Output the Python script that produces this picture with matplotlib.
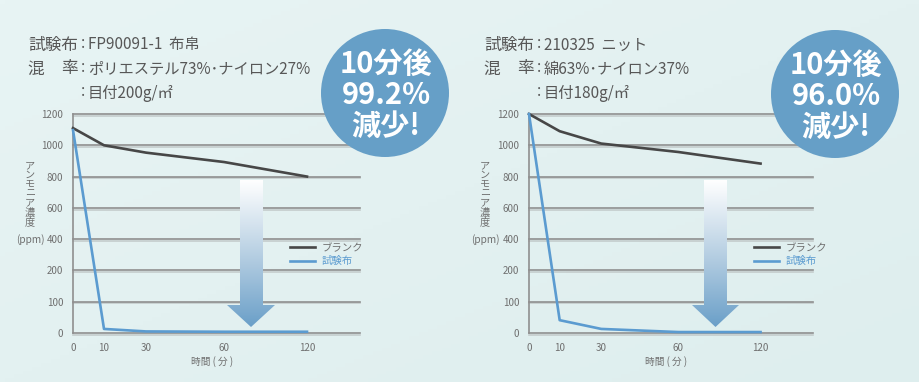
import numpy as np
import matplotlib
matplotlib.use("Agg")
import matplotlib.pyplot as plt
import matplotlib.patheffects as pe
from matplotlib.patches import Circle, Polygon
from matplotlib.colors import LinearSegmentedColormap

plt.rcParams['font.family'] = ['Noto Sans CJK JP', 'DejaVu Sans']

# ---------------- data ----------------
times = [0, 10, 30, 60, 120]
x_ticks = [0, 10, 30, 60, 120]
y_ticks = [0, 100, 200, 400, 600, 800, 1000, 1200]

left_blank = [1110, 1000, 953, 893, 800]
left_test = [1097, 13, 5, 4, 4]
right_blank = [1200, 1090, 1011, 957, 883]
right_test = [1200, 41, 13, 3, 3]

series_names = ["ブランク", "試験布"]
x_label = "時間 ( 分 )"
y_label_stack = "アンモニア濃度"
y_label_unit = "(ppm)"

left_header = [("試験布", "FP90091-1  布帛"),
               ("混率", "ポリエステル73%･ナイロン27%"),
               ("", "目付200g/㎡")]
right_header = [("試験布", "210325  ニット"),
                ("混率", "綿63%･ナイロン37%"),
                ("", "目付180g/㎡")]
left_badge = ["10分後", "99.2%", "減少!"]
right_badge = ["10分後", "96.0%", "減少!"]

# ---------------- styling ----------------
W, H = 920, 382
BLANK_C = "#474747"
TEST_C = "#5b9bd0"
GRID_C = "#8f8f8f"
TICK_C = "#6f6f6f"
TEXT_C = "#575757"
BADGE_C = "#669fc7"

# piecewise scale knots (layout only)
y_knots = np.array([0, 100, 200, 400, 600, 800, 1000, 1200], float)
y_pos = np.arange(len(y_knots), dtype=float)
x_knots = np.array([0, 10, 30, 60, 120, 156], float)
x_pos = np.array([0, 31, 73, 151, 234, 287], float)


def make_fwd(k, p):
    def f(v):
        v = np.asarray(v, float)
        out = np.interp(v, k, p)
        lo = v < k[0]
        hi = v > k[-1]
        out = np.where(lo, p[0] + (v - k[0]) * (p[1] - p[0]) / (k[1] - k[0]), out)
        out = np.where(hi, p[-1] + (v - k[-1]) * (p[-1] - p[-2]) / (k[-1] - k[-2]), out)
        return out
    return f


yf, yi = make_fwd(y_knots, y_pos), make_fwd(y_pos, y_knots)
xf, xi = make_fwd(x_knots, x_pos), make_fwd(x_pos, x_knots)

fig = plt.figure(figsize=(W / 100, H / 100), dpi=100)

# background gradient
bg = fig.add_axes([0, 0, 1, 1], zorder=0)
bg.axis("off")
gx = np.linspace(0, 1, 200)
gy = np.linspace(0, 1, 100)
GX, GY = np.meshgrid(gx, gy)
t = 0.5 * GX + 0.5 * GY
c0 = np.array([232, 244, 244]) / 255
c1 = np.array([222, 238, 238]) / 255
img = c0[None, None, :] * (1 - t[..., None]) + c1[None, None, :] * t[..., None]
bg.imshow(img, extent=(0, W, H, 0), aspect="auto")
bg.set_xlim(0, W)
bg.set_ylim(H, 0)


def px_rect(x0, x1, ytop, ybot):
    return [x0 / W, 1 - ybot / H, (x1 - x0) / W, (ybot - ytop) / H]


grid_fx = [pe.SimpleLineShadow(offset=(0, -1.2), shadow_color="#c4cccc", alpha=1.0),
           pe.Normal()]


def draw_chart(rect, blank, test):
    ax = fig.add_axes(rect, zorder=1)
    ax.patch.set_alpha(0)
    ax.set_xscale("function", functions=(xf, xi))
    ax.set_yscale("function", functions=(yf, yi))
    ax.set_xlim(0, 156)
    ax.set_ylim(0, 1200)
    for yv in y_ticks:
        ax.axhline(yv, color=GRID_C, lw=1.2, zorder=1, clip_on=False, path_effects=grid_fx)
    ax.axvline(0, color=GRID_C, lw=1.2, zorder=1, clip_on=False)
    for s in ax.spines.values():
        s.set_visible(False)
    l1, = ax.plot(times, blank, color=BLANK_C, lw=1.9, zorder=3, clip_on=False,
                  solid_joinstyle="round")
    l2, = ax.plot(times, test, color=TEST_C, lw=1.9, zorder=3, clip_on=False,
                  solid_joinstyle="round")
    ax.set_xticks(x_ticks)
    ax.set_xticklabels([str(v) for v in x_ticks])
    ax.set_yticks(y_ticks)
    ax.set_yticklabels([str(v) for v in y_ticks])
    ax.xaxis.set_minor_locator(matplotlib.ticker.NullLocator())
    ax.yaxis.set_minor_locator(matplotlib.ticker.NullLocator())
    ax.tick_params(axis="both", length=0, labelsize=7, labelcolor=TICK_C)
    ax.tick_params(axis="y", pad=7)
    ax.tick_params(axis="x", pad=7)
    ax.set_xlabel(x_label, fontsize=7, color=TICK_C)
    ax.xaxis.set_label_coords(0.484, -0.106)
    return ax, l1, l2


axL, lb1, lt1 = draw_chart(px_rect(73, 360, 114, 333), left_blank, left_test)
axR, lb2, lt2 = draw_chart(px_rect(529, 813, 114, 333), right_blank, right_test)

for ax, (l1, l2), lx in [(axL, (lb1, lt1), 290), (axR, (lb2, lt2), 754)]:
    leg = ax.legend([l1, l2], series_names, loc="upper left",
                    bbox_to_anchor=(lx / W, 1 - 243 / H), bbox_transform=fig.transFigure,
                    frameon=False, fontsize=7.5, handlelength=2.4, handletextpad=0.6,
                    labelspacing=0.3, borderpad=0, borderaxespad=0)
    texts = leg.get_texts()
    texts[0].set_color(TICK_C)
    texts[1].set_color(TEST_C)

# overlay layer
ov = fig.add_axes([0, 0, 1, 1], zorder=3)
ov.patch.set_alpha(0)
ov.axis("off")

arrow_cmap = LinearSegmentedColormap.from_list("arr", ["#ffffff", "#b8d0e3", "#6a9fc8"])


def gradient_arrow(sx0, sx1, hx0, hx1, ytop, yhead, ytip):
    cx = (hx0 + hx1) / 2
    verts = [(sx0, ytop), (sx1, ytop), (sx1, yhead), (hx1, yhead), (cx, ytip),
             (hx0, yhead), (sx0, yhead)]
    poly = Polygon(verts, closed=True, facecolor="none", edgecolor="none")
    ov.add_patch(poly)
    grad = np.linspace(0, 1, 256)[:, None]
    im = ov.imshow(grad, cmap=arrow_cmap, extent=(hx0, hx1, ytip, ytop), aspect="auto",
                   zorder=4)
    im.set_clip_path(poly)


gradient_arrow(240, 263, 227, 275, 180, 305, 327)
gradient_arrow(704, 727, 692, 739, 180, 305, 327)

ov.set_xlim(0, W)
ov.set_ylim(H, 0)


def badge(cx, cy, lines):
    ov.add_patch(Circle((cx, cy), 64, facecolor=BADGE_C, edgecolor="none", zorder=5))
    for i, s in enumerate(lines):
        ov.text(cx + 1, cy - 29 + i * 31, s, ha="center", va="center", color="white",
                fontsize=21, fontweight="bold", zorder=6)


badge(385, 93, left_badge)
badge(835, 94, right_badge)

FS_L = 12
FS_V = 11


def header(x0, rows):
    for i, (lab, val) in enumerate(rows):
        y = 45 + i * 24
        if lab == "混率":
            ov.text(x0, y, "混", ha="left", va="center", fontsize=FS_L, color=TEXT_C)
            ov.text(x0 + 51, y, "率", ha="right", va="center", fontsize=FS_L, color=TEXT_C)
        elif lab:
            ov.text(x0 + 51, y, lab, ha="right", va="center", fontsize=FS_L, color=TEXT_C)
        ov.text(x0 + 56, y - 1, ":", ha="center", va="center", fontsize=FS_V, color=TEXT_C)
        ov.text(x0 + 61, y, val, ha="left", va="center", fontsize=FS_V, color=TEXT_C)


header(27, left_header)
header(483, right_header)


def ylab(x):
    ov.text(x, 160, "\n".join(y_label_stack), ha="center", va="top", fontsize=7.3,
            color=TICK_C, linespacing=0.93)
    ov.text(x, 240, y_label_unit, ha="center", va="center", fontsize=7.3, color=TICK_C)


ylab(30)
ylab(485)

fig.savefig("out.png", dpi=100)
